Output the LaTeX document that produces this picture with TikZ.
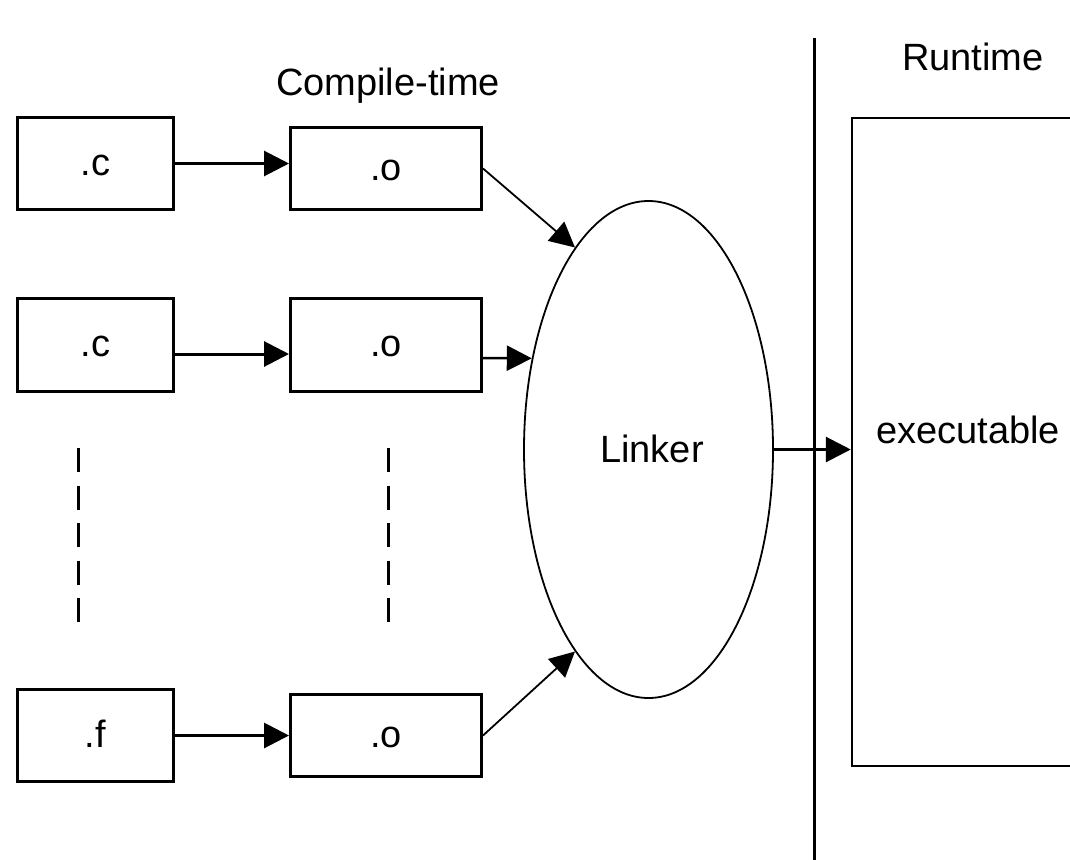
\documentclass[tikz,border=0pt]{standalone}
\usepackage{fontspec}
\setmainfont{Liberation Sans}
\usetikzlibrary{arrows.meta,shapes.geometric}
\begin{document}
\begin{tikzpicture}[x=1pt,y=-1pt,
  every node/.style={font=\fontsize{38}{42}\selectfont},
  filebox/.style={draw, rectangle, line width=3pt, inner sep=0pt,
    text height=23pt, text depth=0pt},
  srcbox/.style={filebox, minimum width=156pt, minimum height=92pt},
  objbox/.style={filebox, minimum width=191pt, minimum height=82pt},
  tip/.style={-{Triangle[length=25pt,width=25pt]}},
  conn/.style={tip, line width=3pt},
  slimconn/.style={tip, line width=1.8pt},
  midconn/.style={tip, line width=2.5pt},
  dashline/.style={line width=3pt, dash pattern=on 24pt off 13.5pt},
  label/.style={inner sep=0pt}
]
\useasboundingbox (0,0) rectangle (1070,859);
\clip (0,0) rectangle (1070,859);

% source and object files
\node[srcbox] (c1) at (95.5,163.5) {.c};
\node[objbox] (o1) at (386,168.5) {.o};
\node[srcbox, minimum height=93pt] (c2) at (95.5,345) {.c};
\node[objbox, minimum height=93pt] (o2) at (386,345) {.o};
\node[srcbox] (f3) at (95.5,735.5) {.f};
\node[objbox] (o3) at (386,735.5) {.o};

% elided rows
\coordinate (da) at (78,448);
\coordinate (db) at (78,622);
\coordinate (ea) at (388,448);
\coordinate (eb) at (388,622);
\draw[dashline] (da) -- (db);
\draw[dashline] (ea) -- (eb);

% linker
\node[draw, ellipse, line width=1.8pt, inner sep=0pt,
  minimum width=249pt, minimum height=497pt] (linker) at (648.5,449.5) {};
\node[label] (linkertxt) at (652,449) {Linker};

% compile-time / runtime divider
\coordinate (dtop) at (814,38);
\coordinate (dbot) at (814,870);
\draw[line width=3pt] (dtop) -- (dbot);

% executable
\node[draw, rectangle, line width=2.5pt, inner sep=0pt,
  minimum width=260pt, minimum height=648pt] (exe) at (982,442) {};
\node[label] (exetxt) at (968,430) {executable};

% headings
\node[label] (ctime) at (388,86) {Compile-time};
\node[label] (rtime) at (973,57) {Runtime};

% compilation arrows
\draw[conn] (c1.east) -- (c1.east -| o1.west);
\coordinate (r2) at ([yshift=-9pt]c2.east);
\draw[conn] (r2) -- (r2 -| o2.west);
\draw[conn] (f3.east) -- (o3.west);

% linking arrows
\draw[slimconn] (o1.east) -- (linker.110);
\draw[midconn] ([yshift=-13pt]o2.east) -- (linker.142);
\draw[slimconn] (o3.east) -- (linker.250);
\draw[conn] (linker.east) -- (linker.east -| exe.west);
\end{tikzpicture}
\end{document}
